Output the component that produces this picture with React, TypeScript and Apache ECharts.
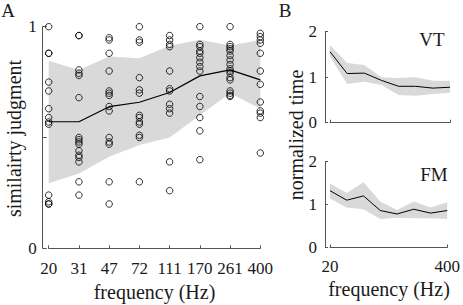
import React, { useEffect, useRef } from 'react';
import * as echarts from 'echarts';

const freqLabels = ['20', '31', '47', '72', '111', '170', '261', '400'];

const judg20 = [1.0, 0.88, 0.88, 0.75, 0.71, 0.63, 0.59, 0.57, 0.56, 0.24, 0.21, 0.2, 0.2];
const judg31 = [0.96, 0.96, 0.805, 0.79, 0.78, 0.68, 0.5, 0.49, 0.48, 0.47, 0.44, 0.42, 0.41, 0.39, 0.3, 0.24];
const judg47 = [0.95, 0.94, 0.88, 0.8, 0.71, 0.7, 0.69, 0.64, 0.62, 0.5, 0.48, 0.47, 0.3, 0.2];
const judg72 = [1.0, 0.94, 0.93, 0.77, 0.715, 0.7, 0.6, 0.59, 0.57, 0.56, 0.51, 0.5, 0.3];
const judg111 = [0.96, 0.94, 0.92, 0.91, 0.8, 0.72, 0.71, 0.65, 0.63, 0.61, 0.39, 0.26];
const judg170 = [1.0, 0.92, 0.91, 0.89, 0.88, 0.86, 0.84, 0.82, 0.8, 0.685, 0.64, 0.59, 0.53, 0.4];
const judg261 = [1.0, 0.92, 0.91, 0.9, 0.89, 0.87, 0.85, 0.83, 0.81, 0.8, 0.79, 0.77, 0.76, 0.71, 0.7, 0.69, 0.685];
const judg400 = [0.97, 0.955, 0.94, 0.925, 0.88, 0.8, 0.74, 0.66, 0.62, 0.61, 0.59, 0.43];

const meanJudgment = [0.571, 0.571, 0.639, 0.659, 0.703, 0.778, 0.805, 0.76];
const upperJudgment = [0.846, 0.805, 0.866, 0.858, 0.914, 0.941, 0.915, 0.94];
const lowerJudgment = [0.293, 0.338, 0.413, 0.466, 0.5, 0.6, 0.7, 0.63];

const vtMean = [1.56, 1.08, 1.09, 0.93, 0.8, 0.8, 0.76, 0.78];
const vtUpper = [1.71, 1.31, 1.27, 1.0, 0.98, 1.0, 0.92, 0.92];
const vtLower = [1.45, 0.85, 0.9, 0.83, 0.61, 0.59, 0.63, 0.66];

const fmMean = [1.32, 1.1, 1.2, 0.86, 0.78, 0.89, 0.8, 0.86];
const fmUpper = [1.49, 1.27, 1.52, 1.07, 0.87, 1.07, 0.93, 1.05];
const fmLower = [1.14, 0.93, 0.89, 0.66, 0.69, 0.68, 0.68, 0.66];

const FONT = 'Liberation Serif';
const AXIS = '#555555';
const TEXT = '#1a1a1a';
const BAND = '#d9d9d9';

function bandSeries(idx: number, lower: number[], upper: number[]) {
  return [
    {
      type: 'line',
      xAxisIndex: idx,
      yAxisIndex: idx,
      data: lower,
      stack: 'band' + idx,
      symbol: 'none',
      lineStyle: { opacity: 0 },
      silent: true,
      z: 1,
    },
    {
      type: 'line',
      xAxisIndex: idx,
      yAxisIndex: idx,
      data: upper.map((u, i) => u - lower[i]),
      stack: 'band' + idx,
      symbol: 'none',
      lineStyle: { opacity: 0 },
      areaStyle: { color: BAND, opacity: 1 },
      silent: true,
      z: 1,
    },
  ];
}

export default function App() {
  const ref = useRef<HTMLDivElement>(null);
  useEffect(() => {
    if (!ref.current) return;
    const chart = echarts.init(ref.current, undefined, { renderer: 'svg' });
    const columns = [judg20, judg31, judg47, judg72, judg111, judg170, judg261, judg400];
    const scatterData: number[][] = [];
    columns.forEach((col, i) => col.forEach((v) => scatterData.push([i, v])));

    const catAxis = (grid: number, offset: number, showLabels: boolean, ends: boolean) => ({
      gridIndex: grid,
      type: 'category',
      data: freqLabels,
      boundaryGap: false,
      offset,
      axisLine: { show: true, lineStyle: { color: AXIS, width: 1 } },
      axisTick: {
        show: true,
        inside: true,
        length: 3,
        interval: ends ? (i: number) => i === 0 || i === 7 : 0,
        lineStyle: { color: AXIS },
      },
      axisLabel: {
        show: showLabels,
        color: TEXT,
        fontFamily: FONT,
        fontSize: 17,
        margin: 6,
        interval: ends ? (i: number) => i === 0 || i === 7 : 0,
      },
      splitLine: { show: false },
    });

    const valAxis = (grid: number, max: number, interval: number, offset: number, margin: number, tickLen: number) => ({
      gridIndex: grid,
      type: 'value',
      min: 0,
      max,
      interval,
      offset,
      axisLine: { show: true, lineStyle: { color: AXIS, width: 1 } },
      axisTick: { show: true, inside: true, length: tickLen, lineStyle: { color: AXIS } },
      axisLabel: {
        color: TEXT,
        fontFamily: FONT,
        fontSize: 17,
        margin,
        formatter: (v: number) => (max === 1 && v === 0.5 ? '' : String(v)),
      },
      splitLine: { show: false },
    });

    const txt = (text: string, x: number, y: number, size: number, opts: any = {}) => ({
      type: 'text',
      x,
      y,
      rotation: opts.rotation || 0,
      silent: true,
      style: {
        text,
        fill: TEXT,
        fontFamily: FONT,
        fontSize: size,
        textAlign: opts.align || 'center',
        textVerticalAlign: 'middle',
      },
    });

    chart.setOption({
      animation: false,
      backgroundColor: '#ffffff',
      grid: [
        { left: 48.7, top: 26.7, width: 211.6, height: 221.6 },
        { left: 330, top: 31.7, width: 120, height: 91 },
        { left: 330, top: 161.5, width: 120, height: 86 },
      ],
      xAxis: [catAxis(0, 6, true, false), catAxis(1, 4, false, true), catAxis(2, 4, true, true)],
      yAxis: [valAxis(0, 1, 0.5, 6, 6, 4), valAxis(1, 2, 1, 5, 8, 3), valAxis(2, 2, 1, 5, 8, 3)],
      series: [
        ...bandSeries(0, lowerJudgment, upperJudgment),
        {
          type: 'line',
          xAxisIndex: 0,
          yAxisIndex: 0,
          data: meanJudgment,
          symbol: 'none',
          lineStyle: { color: '#000', width: 1.2 },
          z: 3,
        },
        {
          type: 'scatter',
          xAxisIndex: 0,
          yAxisIndex: 0,
          data: scatterData,
          symbol: 'circle',
          symbolSize: 6.5,
          itemStyle: { color: 'rgba(0,0,0,0)', borderColor: '#000', borderWidth: 1 },
          z: 4,
        },
        ...bandSeries(1, vtLower, vtUpper),
        {
          type: 'line',
          xAxisIndex: 1,
          yAxisIndex: 1,
          data: vtMean,
          symbol: 'none',
          lineStyle: { color: '#000', width: 1 },
          z: 3,
        },
        ...bandSeries(2, fmLower, fmUpper),
        {
          type: 'line',
          xAxisIndex: 2,
          yAxisIndex: 2,
          data: fmMean,
          symbol: 'none',
          lineStyle: { color: '#000', width: 1 },
          z: 3,
        },
      ],
      graphic: [
        txt('A', 8, 10, 19),
        txt('B', 285, 10, 19),
        txt('VT', 432, 39, 19),
        txt('FM', 434, 174, 19),
        txt('similairty judgment', 14, 138.5, 20, { rotation: Math.PI / 2 }),
        txt('normalized time', 296, 135, 20, { rotation: Math.PI / 2 }),
        txt('frequency (Hz)', 154.5, 292, 20),
        txt('frequency (Hz)', 389, 289, 20),
      ],
    });
    return () => chart.dispose();
  }, []);
  return (
    <div
      ref={ref}
      style={{ position: 'fixed', left: 0, top: 0, width: 463, height: 305, background: '#fff' }}
    />
  );
}
